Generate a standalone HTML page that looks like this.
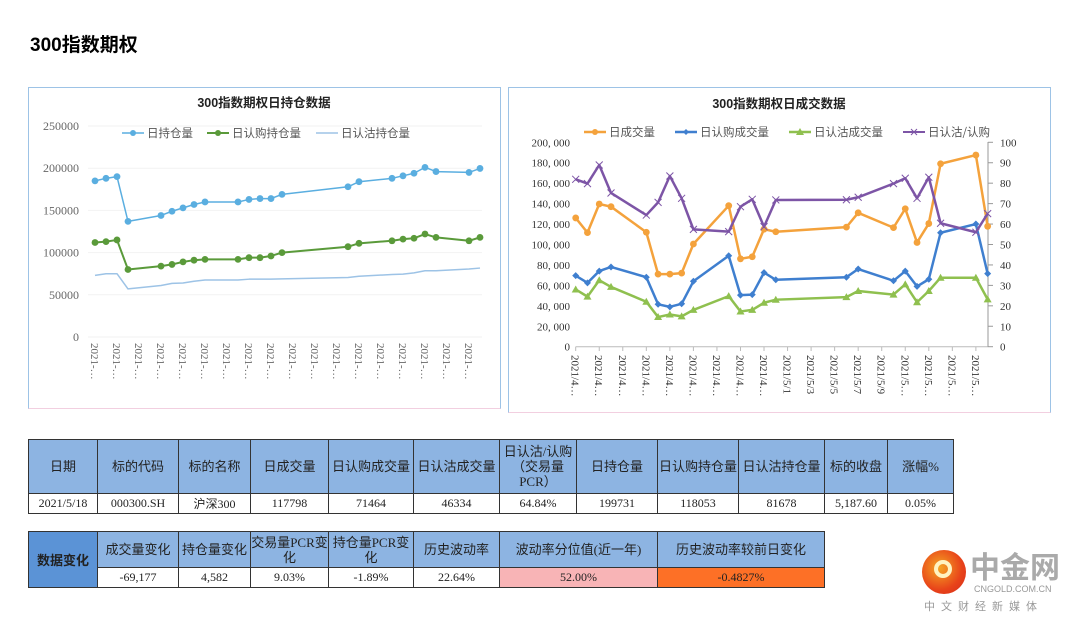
<!DOCTYPE html>
<html><head><meta charset="utf-8">
<style>
body{margin:0;width:1080px;height:621px;background:#fff;position:relative;overflow:hidden;font-family:"Liberation Serif","Noto Serif CJK SC",serif;}
.abs{position:absolute;}
table{border-collapse:collapse;position:absolute;table-layout:fixed;}
td{border:1px solid #333;text-align:center;font-size:12px;padding:0;color:#222;font-family:"Liberation Serif","Noto Sans CJK SC",serif;}
td.h{background:#8db4e2;font-size:13px;line-height:15px;}
</style></head><body>
<div class="abs" style="left:30px;top:30px;font:bold 19px 'Liberation Sans','Noto Sans CJK SC',sans-serif;">300指数期权</div>

<div class="abs" style="left:28px;top:87px;width:471px;height:320px;border:1px solid #9dc3e6;border-bottom-color:#f2cfe0;"></div>
<div class="abs" style="left:508px;top:87px;width:541px;height:324px;border:1px solid #9dc3e6;border-bottom-color:#f2cfe0;"></div>

<svg class="abs" style="left:0;top:0" width="1080" height="430" id="charts"></svg>

<table style="left:28px;top:439px;width:925px;">
<colgroup><col style="width:69px"><col style="width:81px"><col style="width:72px"><col style="width:78px"><col style="width:85px"><col style="width:86px"><col style="width:77px"><col style="width:81px"><col style="width:81px"><col style="width:86px"><col style="width:63px"><col style="width:66px"></colgroup>
<tr style="height:54px"><td class="h">日期</td><td class="h">标的代码</td><td class="h">标的名称</td><td class="h">日成交量</td><td class="h">日认购成交量</td><td class="h">日认沽成交量</td><td class="h">日认沽/认购（交易量PCR）</td><td class="h">日持仓量</td><td class="h">日认购持仓量</td><td class="h">日认沽持仓量</td><td class="h">标的收盘</td><td class="h">涨幅%</td></tr>
<tr style="height:20px"><td>2021/5/18</td><td>000300.SH</td><td>沪深300</td><td>117798</td><td>71464</td><td>46334</td><td>64.84%</td><td>199731</td><td>118053</td><td>81678</td><td>5,187.60</td><td>0.05%</td></tr>
</table>

<table style="left:28px;top:531px;width:796px;">
<colgroup><col style="width:69px"><col style="width:81px"><col style="width:72px"><col style="width:78px"><col style="width:85px"><col style="width:86px"><col style="width:158px"><col style="width:167px"></colgroup>
<tr style="height:36px"><td rowspan="2" style="background:#5b93d6;font-weight:bold;font-size:13px;">数据变化</td><td class="h">成交量变化</td><td class="h">持仓量变化</td><td class="h">交易量PCR变化</td><td class="h">持仓量PCR变化</td><td class="h">历史波动率</td><td class="h">波动率分位值(近一年)</td><td class="h">历史波动率较前日变化</td></tr>
<tr style="height:20px"><td>-69,177</td><td>4,582</td><td>9.03%</td><td>-1.89%</td><td>22.64%</td><td style="background:#f8b4b6">52.00%</td><td style="background:#fd7026">-0.4827%</td></tr>
</table>

<div class="abs" style="left:920px;top:548px;width:160px;height:70px;white-space:nowrap;">
<div class="abs" style="left:2px;top:2px;width:44px;height:44px;border-radius:50%;background:radial-gradient(circle at 40% 40%,#f5a623,#e8431a 60%,#d42a1a);"></div>
<div class="abs" style="left:14px;top:12px;width:18px;height:18px;border-radius:50%;border:4px solid #fff3c0;box-sizing:border-box;"></div>
<div class="abs" style="left:50px;top:0px;font:bold 30px/34px 'Noto Sans CJK SC',sans-serif;color:#aaa;white-space:nowrap;">中金网</div>
<div class="abs" style="left:54px;top:36px;font:9px 'Liberation Sans',sans-serif;color:#999;white-space:nowrap;">CNGOLD.COM.CN</div>
<div class="abs" style="left:4px;top:50px;font:11px 'Noto Sans CJK SC',sans-serif;color:#999;letter-spacing:6px;white-space:nowrap;">中文财经新媒体</div>
</div>

<script>
const dayIdx=[0,1,2,3,6,7,8,9,10,13,14,15,16,17,23,24,27,28,29,30,31,34,35];
const oiTotal=[185000,188000,190000,137000,144000,149000,153000,157000,160000,160000,163000,164000,164000,169000,178000,184000,188000,191000,194000,201000,196000,195000,199731];
const oiCall=[112000,113000,115000,80000,84000,86000,89000,91000,92000,92000,94000,94000,96000,100000,107000,111000,114000,116000,117000,122000,118000,114000,118053];
const oiPut=[73000,75000,75000,57000,61000,63500,64000,66000,67500,67500,68500,68500,68500,68800,70500,72000,74000,74500,76000,78500,78500,80500,81678];
const volTotal=[126000,111600,139600,137000,112000,71000,71000,72000,100500,138000,86000,88000,115000,112500,117000,131000,116500,135000,102000,120500,179000,187500,117798];
const volCall=[69500,62500,74000,78000,68000,41500,39000,42000,64000,89000,50500,51000,72500,65500,68000,76000,64500,74000,59000,66000,111500,120000,71464];
const volPut=[56000,49000,65000,58500,44000,29000,31500,29700,36000,49500,34500,36000,43000,46000,48500,54500,51000,61000,43500,54500,67500,67500,46334];
const pcr=[81.9,79.8,88.9,75.2,64.4,70.6,83.5,72.6,57.4,56.3,68.5,72.1,58.7,71.8,71.9,73.1,79.8,82.4,72.6,82.9,60.4,56,65.1];
const leftTicks=[0,50000,100000,150000,200000,250000];
const rightTicks=[0,20000,40000,60000,80000,100000,120000,140000,160000,180000,200000];
const pcrTicks=[0,10,20,30,40,50,60,70,80,90,100];
const xLabelsL=["2021-…","2021-…","2021-…","2021-…","2021-…","2021-…","2021-…","2021-…","2021-…","2021-…","2021-…","2021-…","2021-…","2021-…","2021-…","2021-…","2021-…","2021-…"];
const xLabelsR=["2021/4…","2021/4…","2021/4…","2021/4…","2021/4…","2021/4…","2021/4…","2021/4…","2021/4…","2021/5/1","2021/5/3","2021/5/5","2021/5/7","2021/5/9","2021/5…","2021/5…","2021/5…","2021/5…"];

const svg=document.getElementById('charts');const NS='http://www.w3.org/2000/svg';
function mk(t,a,txt){const e=document.createElementNS(NS,t);for(const k in a)e.setAttribute(k,a[k]);if(txt!==undefined)e.textContent=txt;svg.appendChild(e);return e;}
const F='"Liberation Serif","Noto Serif CJK SC",serif';
const lx=d=>95+d*11, ly=v=>337-v/250000*211;
const rx=d=>575.7+d*11.77, ry=v=>346.7-v/200000*204.4, ry2=v=>346.7-v/100*204.4;

function title(x,y,t,n){const e=mk('text',{x:x,y:y,'text-anchor':'middle','font-size':12.5,'font-weight':'bold','font-family':'"Liberation Sans","Noto Sans CJK SC",sans-serif',fill:'#222'},t);}
title(264,107,'300指数期权日持仓数据','left-chart-title');
title(779,108,'300指数期权日成交数据','right-chart-title');

leftTicks.forEach(v=>{const e=mk('text',{x:79,y:ly(v)+4,'text-anchor':'end','font-size':12,fill:'#666','font-family':F},v);
 const g=mk('line',{x1:88,x2:482,y1:ly(v),y2:ly(v),stroke:'#f2f2f2'});});
xLabelsL.forEach((t,i)=>{const x=lx(i*2);const e=mk('text',{transform:`translate(${x-4},${343}) rotate(90)`,'font-size':11,fill:'#666','font-family':F},t);});

rightTicks.forEach(v=>{const e=mk('text',{x:570,y:ry(v)+4,'text-anchor':'end','font-size':11,fill:'#333','font-family':F},v.toLocaleString('en-US').replace(/,/g,', '));});
pcrTicks.forEach(v=>{const e=mk('text',{x:1000,y:ry2(v)+4,'font-size':11,fill:'#333','font-family':F},v);
 const t=mk('line',{x1:988,x2:993,y1:ry2(v),y2:ry2(v),stroke:'#999'});});
const ax=mk('line',{x1:575.7,x2:988,y1:346.7,y2:346.7,stroke:'#bbb'});
const ax2=mk('line',{x1:988,x2:988,y1:142,y2:346.7,stroke:'#999'});
xLabelsR.forEach((t,i)=>{const x=rx(i*2);const tk=mk('line',{x1:x,x2:x,y1:346.7,y2:351,stroke:'#bbb'});
 const e=mk('text',{transform:`translate(${x-4},${355}) rotate(90)`,'font-size':11,fill:'#333','font-family':F},t);});

function series(vals,xf,yf,color,w,marker,name){
 const pts=vals.map((v,i)=>[xf(dayIdx[i]),yf(v)]);
 const p=mk('polyline',{points:pts.map(p=>p.join(',')).join(' '),fill:'none',stroke:color,'stroke-width':w,'stroke-linejoin':'round'});
 
 pts.forEach(([x,y])=>{let m;
  if(marker==='circle')m=mk('circle',{cx:x,cy:y,r:3.4,fill:color});
  else if(marker==='diamond')m=mk('polygon',{points:`${x},${y-3.5} ${x+3.5},${y} ${x},${y+3.5} ${x-3.5},${y}`,fill:color});
  else if(marker==='tri')m=mk('polygon',{points:`${x},${y-4} ${x+4},${y+3} ${x-4},${y+3}`,fill:color});
  else if(marker==='x')m=mk('path',{d:`M${x-3.5},${y-3.5}L${x+3.5},${y+3.5}M${x-3.5},${y+3.5}L${x+3.5},${y-3.5}`,stroke:color,'stroke-width':1});
  else return;
  });
}
series(oiPut,lx,ly,'#9dc3e6',1.5,'none','put-oi');
series(oiCall,lx,ly,'#5a9a3a',2,'circle','call-oi');
series(oiTotal,lx,ly,'#5aaee0',1.5,'circle','total-oi');
series(volPut,rx,ry,'#8fc04f',2.5,'tri','put-volume');
series(volCall,rx,ry,'#3f7fcf',2.5,'diamond','call-volume');
series(volTotal,rx,ry,'#f4a23c',2.5,'circle','total-volume');
series(pcr,rx,ry2,'#7d55a6',2.5,'x','pcr');

function leg(x,y,color,w,marker,t,name,fs){
 const l=mk('line',{x1:x,x2:x+22,y1:y,y2:y,stroke:color,'stroke-width':w});
 const cx=x+11;
 if(marker==='circle'){const m=mk('circle',{cx:cx,cy:y,r:3,fill:color});}
 if(marker==='diamond'){const m=mk('polygon',{points:`${cx},${y-3} ${cx+3},${y} ${cx},${y+3} ${cx-3},${y}`,fill:color});}
 if(marker==='tri'){const m=mk('polygon',{points:`${cx},${y-4} ${cx+4},${y+3} ${cx-4},${y+3}`,fill:color});}
 if(marker==='x'){const m=mk('path',{d:`M${cx-3},${y-3}L${cx+3},${y+3}M${cx-3},${y+3}L${cx+3},${y-3}`,stroke:color});}
 const e=mk('text',{x:x+25,y:y+4,'font-size':fs,fill:'#555','font-family':'"Noto Sans CJK SC",sans-serif'},t);
}
leg(122,133,'#5aaee0',1.5,'circle','日持仓量','legend-total-oi',11.5);
leg(207,133,'#5a9a3a',2,'circle','日认购持仓量','legend-call-oi',11.5);
leg(316,133,'#9dc3e6',1.5,'none','日认沽持仓量','legend-put-oi',11.5);
leg(584,132,'#f4a23c',2.5,'circle','日成交量','legend-total-volume',11.5);
leg(675,132,'#3f7fcf',2.5,'diamond','日认购成交量','legend-call-volume',11.5);
leg(789,132,'#8fc04f',2.5,'tri','日认沽成交量','legend-put-volume',11.5);
leg(903,132,'#7d55a6',2,'x','日认沽/认购','legend-pcr',11.5);
</script>
</body></html>
